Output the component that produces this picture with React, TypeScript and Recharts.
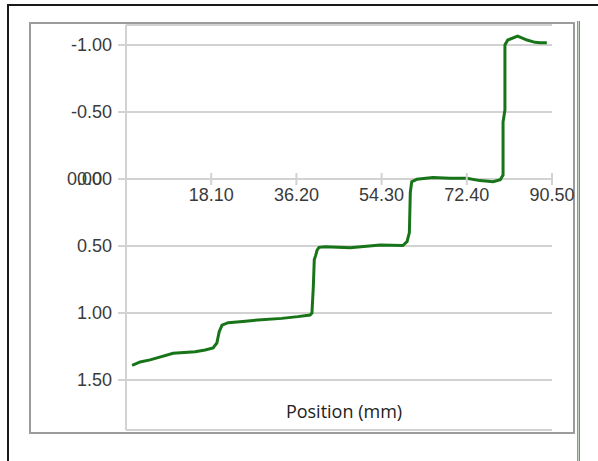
import React from "react";
import {
  LineChart,
  Line,
  XAxis,
  YAxis,
  CartesianGrid,
  ReferenceDot,
} from "recharts";

// position along the part (mm)
const POSITION = [
  1.3, 3.0, 5.1, 6.8, 10.0, 14.7, 16.8, 18.5, 19.3, 19.8, 20.4, 21.7, 24.2, 28.0,
  33.1, 36.5, 39.1, 39.5, 39.8, 40.0, 40.3, 40.6, 41.0, 42.3, 47.6, 54.0, 58.8,
  59.7, 60.2, 60.4, 60.7, 61.8, 65.2, 68.8, 72.4, 75.2, 78.0, 79.5, 80.1, 80.1,
  80.5, 80.5, 81.1, 83.2, 85.2, 86.9, 88.0, 89.4,
];

// measured deflection at each position
const DEFLECTION = [
  1.39, 1.365, 1.35, 1.333, 1.3, 1.289, 1.276, 1.26, 1.224, 1.14, 1.09, 1.072,
  1.065, 1.052, 1.04, 1.027, 1.015, 1.0, 0.8, 0.6, 0.57, 0.53, 0.51, 0.505, 0.513,
  0.493, 0.497, 0.468, 0.4, 0.1, 0.02, 0.002, -0.012, -0.005, -0.005, 0.012, 0.02,
  0.005, -0.03, -0.425, -0.515, -1.0, -1.037, -1.067, -1.037, -1.02, -1.017, -1.017,
];

const X_TICKS = [18.1, 36.2, 54.3, 72.4, 90.5];
const Y_TICKS = [-1.0, -0.5, 0, 0.5, 1.0, 1.5];

const data = POSITION.map((x, i) => ({ x, y: DEFLECTION[i] }));

const TICK_FONT = "'Liberation Sans', Arial, sans-serif";
const GRID = "#d2d2d2";

function YTick({ x, y, payload }: { x?: number; y?: number; payload?: { value: number } }) {
  const v = payload?.value ?? 0;
  const label = v.toFixed(2);
  return (
    <g>
      {/* origin label of the x axis sits on top of the y label */}
      {v === 0 && (
        <text x={(x ?? 0) - 10} y={y} dy="0.355em" textAnchor="end" fontSize={18} fontFamily={TICK_FONT} fill="#3a3a3a">
          {label}
        </text>
      )}
      <text x={x} y={y} dy="0.355em" textAnchor="end" fontSize={18} fontFamily={TICK_FONT} fill="#3a3a3a">
        {label}
      </text>
    </g>
  );
}

function XTick(props: { cx?: number; cy?: number; label: string }) {
  const { cx = 0, cy = 0, label } = props;
  return (
    <g>
      <line x1={cx} x2={cx} y1={cy - 6} y2={cy + 6} stroke={GRID} strokeWidth={2} />
      <text x={cx} y={cy + 16} dy="0.355em" textAnchor="middle" fontSize={18} fontFamily={TICK_FONT} fill="#3a3a3a">
        {label}
      </text>
    </g>
  );
}

export default function App() {
  return (
    <div
      style={{
        position: "absolute",
        left: 0,
        top: 0,
        width: 598,
        height: 461,
        background: "#fff",
        overflow: "hidden",
      }}
    >
      {/* outer window border */}
      <div
        style={{
          position: "absolute",
          left: 7,
          top: 4,
          width: 620,
          height: 480,
          borderLeft: "2px solid #1a1a1a",
          borderTop: "2px solid #1a1a1a",
        }}
      />
      {/* panel frame */}
      <div
        style={{
          position: "absolute",
          left: 29,
          top: 22,
          width: 542,
          height: 408,
          border: "2px solid #9c9c9c",
        }}
      />
      <div
        style={{
          position: "absolute",
          left: 577,
          top: 21,
          width: 1,
          height: 460,
          borderLeft: "1px solid #8a9a88",
          borderRight: "1px solid #7a8a78",
          background: "#c8d4c4",
        }}
      />
      <div style={{ position: "absolute", left: 0, top: 0 }}>
        <LineChart width={598} height={461} data={data} margin={{ top: 25, right: 46, bottom: 31, left: 0 }}>
          <CartesianGrid horizontal vertical={false} stroke={GRID} strokeWidth={2} />
          <XAxis dataKey="x" type="number" domain={[0, 90.5]} hide allowDataOverflow />
          <YAxis
            type="number"
            reversed
            width={126}
            domain={[-1.1493, 1.873]}
            allowDataOverflow
            ticks={Y_TICKS}
            interval={0}
            axisLine={{ stroke: GRID, strokeWidth: 2 }}
            tickLine={{ stroke: GRID, strokeWidth: 2 }}
            tickSize={8}
            tickMargin={6}
            tick={<YTick />}
          />
          {X_TICKS.map((t) => (
            <ReferenceDot
              key={t}
              x={t}
              y={0}
              r={0}
              ifOverflow="visible"
              shape={(p: { cx?: number; cy?: number }) => <XTick cx={p.cx} cy={p.cy} label={t.toFixed(2)} />}
            />
          ))}
          <Line
            type="linear"
            dataKey="y"
            stroke="#187418"
            strokeWidth={3}
            dot={false}
            isAnimationActive={false}
          />
        </LineChart>
      </div>
      <div
        style={{
          position: "absolute",
          left: 244,
          width: 200,
          top: 399,
          textAlign: "center",
          fontFamily: "'Open Sans', sans-serif",
          fontSize: 18,
          lineHeight: "24px",
          color: "#222",
        }}
      >
        Position (mm)
      </div>
    </div>
  );
}
